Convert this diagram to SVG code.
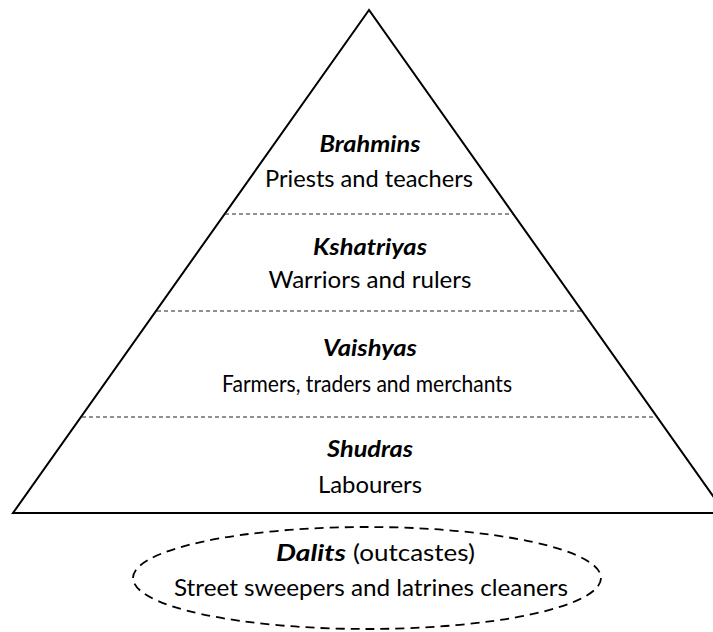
<svg xmlns="http://www.w3.org/2000/svg" width="713" height="632" viewBox="0 0 713 632">
  <style>
    .t { font-family: Lato, "Open Sans", "Liberation Sans", sans-serif; font-size: 23px; fill: #000; text-anchor: middle; }
    .h { font-weight: bold; font-style: italic; }
    .tier { fill: none; stroke: #000; stroke-width: 2; }
    .sep { stroke: #222; stroke-width: 1; stroke-dasharray: 4 3; }
    .out { fill: none; stroke: #000; stroke-width: 1.8; stroke-dasharray: 9 6; }
  </style>
  <rect width="713" height="632" fill="#fff"/>

  <!-- pyramid outline -->
  <g id="pyramid">
    <polygon class="tier" points="369,10 13,513 725,513"/>
  </g>

  <!-- tier separators -->
  <g id="connectors">
    <line class="sep" x1="225" y1="214" x2="513" y2="214"/>
    <line class="sep" x1="157" y1="311" x2="581" y2="311"/>
    <line class="sep" x1="82" y1="417" x2="656" y2="417"/>
  </g>

  <g id="brahmins">
    <text class="t h" x="370" y="152" textLength="101" lengthAdjust="spacingAndGlyphs">Brahmins</text>
    <text class="t" x="369" y="187" textLength="208" lengthAdjust="spacingAndGlyphs">Priests and teachers</text>
  </g>

  <g id="kshatriyas">
    <text class="t h" x="370" y="255" textLength="114" lengthAdjust="spacingAndGlyphs">Kshatriyas</text>
    <text class="t" x="370" y="288" textLength="203" lengthAdjust="spacingAndGlyphs">Warriors and rulers</text>
  </g>

  <g id="vaishyas">
    <text class="t h" x="370" y="356" textLength="94" lengthAdjust="spacingAndGlyphs">Vaishyas</text>
    <text class="t" x="367" y="392" textLength="290" lengthAdjust="spacingAndGlyphs">Farmers, traders and merchants</text>
  </g>

  <g id="shudras">
    <text class="t h" x="370" y="457" textLength="86" lengthAdjust="spacingAndGlyphs">Shudras</text>
    <text class="t" x="370" y="493" textLength="104" lengthAdjust="spacingAndGlyphs">Labourers</text>
  </g>

  <g id="dalits">
    <ellipse class="out" cx="367" cy="578" rx="234" ry="51"/>
    <text class="t h" x="311" y="561" textLength="70" lengthAdjust="spacingAndGlyphs">Dalits</text>
    <text class="t" x="414" y="561" textLength="122" lengthAdjust="spacingAndGlyphs">(outcastes)</text>
    <text class="t" x="371" y="596" textLength="394" lengthAdjust="spacingAndGlyphs">Street sweepers and latrines cleaners</text>
  </g>
</svg>
